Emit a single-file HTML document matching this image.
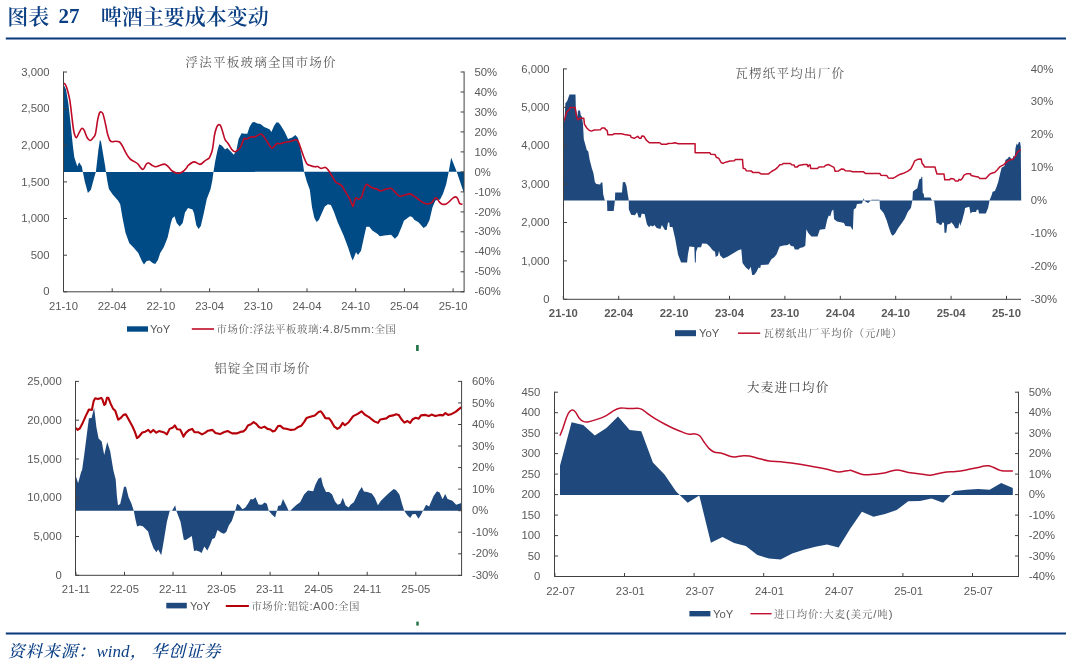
<!DOCTYPE html>
<html lang="zh-CN">
<head>
<meta charset="utf-8">
<title>图表 27 啤酒主要成本变动</title>
<style>
html,body{margin:0;padding:0;background:#fff;}
body{width:1066px;height:664px;overflow:hidden;}
svg{display:block;}
</style>
</head>
<body>
<svg width="1066" height="664" viewBox="0 0 1066 664">
<rect width="1066" height="664" fill="#fff"/>
<text x="7.2" y="23.6" font-size="21" font-weight="600" fill="#0B3F84" font-family='"Liberation Serif", "Noto Serif CJK SC", serif'>图表</text>
<text x="58.6" y="23.4" font-size="21" font-weight="bold" fill="#0B3F84" font-family='"Liberation Serif", "Noto Serif CJK SC", serif'>27</text>
<text x="100.8" y="23.6" font-size="21" font-weight="600" fill="#0B3F84" font-family='"Liberation Serif", "Noto Serif CJK SC", serif'>啤酒主要成本变动</text>
<rect x="5.8" y="37.5" width="1061" height="2" fill="#07397B"/>
<rect x="5.8" y="632.5" width="1061" height="2" fill="#07397B"/>
<text x="8" y="656.5" font-size="16.6" font-weight="500" font-style="italic" fill="#0B3F84" font-family='"Liberation Serif", "Noto Serif CJK SC", serif' letter-spacing="1">资料来源：</text>
<text x="96.5" y="656.5" font-size="17" font-style="italic" fill="#0B3F84" font-family='"Liberation Serif", "Noto Serif CJK SC", serif'>wind</text>
<text x="130" y="656.5" font-size="16.6" font-weight="500" font-style="italic" fill="#0B3F84" font-family='"Liberation Serif", "Noto Serif CJK SC", serif'>，</text>
<text x="151" y="656.5" font-size="16.6" font-weight="500" font-style="italic" fill="#0B3F84" font-family='"Liberation Serif", "Noto Serif CJK SC", serif' letter-spacing="1">华创证券</text>
<rect x="416.1" y="345" width="2.6" height="6" fill="#1E7145"/>
<rect x="416.3" y="621.6" width="2.4" height="4" fill="#1E7145"/>
<path d="M63.5,171.9 L63.5,84.3 L66,89.6 L68.3,103.1 L70.5,122.7 L72.8,145.3 L74.3,157.3 L77.3,166.4 L79.1,162.2 L81.8,166.4 L82.8,171.8 L84.8,181.6 L87.9,192.9 L90.9,189.8 L93.9,178.6 L95.9,171.8 L98.4,149.8 L99.9,140 L101,141.5 L102.9,152.8 L105.2,166.4 L105.9,171.8 L107.4,181.6 L108.9,189.1 L112.7,194.4 L118,200.4 L120.2,204.2 L122.5,217.7 L125.5,232.8 L129.3,243.3 L133.8,247.8 L138.3,253.1 L142.1,261.4 L144,264.4 L146.6,261.1 L149.6,260.6 L152.6,262.9 L155.2,264.1 L157.9,259.9 L160.2,253.1 L163.9,247.1 L167.7,237.3 L170.7,223.7 L172.2,218.5 L174.5,216.2 L176.7,223 L179.7,226.4 L182.7,223 L185,212.4 L188,207.9 L192.5,209.4 L194,213.2 L196.3,225.2 L198.6,229 L200.8,226 L203.8,213.2 L206.8,198.9 L210.6,189.1 L212.4,180.1 L213.5,171.8 L215.3,160.8 L217.5,150.2 L219.3,144.2 L222,145.7 L225.1,149.5 L227.3,148 L230.3,151 L233.8,154.8 L236.4,150.2 L238.6,138.9 L241.6,133.2 L244.6,133.7 L247.3,133.7 L249.5,126.9 L252.2,122.4 L254.4,122.1 L257.4,123.4 L260.5,123.9 L264.2,126.9 L269.5,129.2 L271.4,131.9 L274,126.1 L276.3,122.4 L278.5,122.4 L280.8,125.4 L284.5,131.4 L288,138.9 L292.1,137.4 L295.5,134.9 L298.1,138.2 L300.4,148.7 L302.6,160.8 L304.1,171.8 L306.8,181.6 L309.8,189.8 L312,207.2 L314.3,217.7 L316.6,221.9 L318.8,220 L321.8,213.2 L324.8,206.4 L327.9,204.2 L330.9,204.9 L333.9,211.7 L337.7,222.2 L343.7,235.8 L348.2,247.8 L351.2,256.9 L352.7,260.6 L354.2,256.9 L356,252.3 L358,255.1 L361,250.8 L363.3,240.3 L366.3,226.7 L369.3,226.7 L372.3,230.5 L377.6,234 L379.8,236.2 L384.3,235.5 L391.1,234.7 L394.9,238.8 L397.9,235.8 L401.7,226.7 L403.9,220.7 L406.9,218.5 L409.9,216.2 L412.2,217 L414.5,220 L418.2,221.9 L421.2,225.2 L423.5,228 L426.5,226 L429.5,220 L432.5,207.2 L435.5,200.4 L440.1,199.6 L443.1,193.6 L446.1,184.6 L448.3,174 L448.7,171.8 L451.2,157.7 L456.8,172 L462.9,190 L464,192.5 L464,171.8Z" fill="#004A86"/>
<path d="M63.3,83.3 C63.6,83.5 64.6,83.1 65.3,84.3 C66,85.5 66.8,87.7 67.5,90.3 C68.2,92.9 69.1,95.9 69.8,100.1 C70.5,104.2 71.1,110.2 71.7,115.2 C72.3,120.2 73,126.7 73.6,130.2 C74.2,133.7 74.6,134.8 75.1,136 C75.6,137.2 76,137.9 76.6,137.5 C77.2,137.1 77.9,134.8 78.8,133.3 C79.7,131.8 80.9,128.9 81.8,128.4 C82.7,127.9 83.2,128.7 84.1,130.2 C85,131.7 86.1,135.8 87.1,137.5 C88.1,139.2 89.1,140.4 90.1,140.5 C91.1,140.6 92.2,138.9 93.1,137.8 C94,136.7 94.6,137 95.4,134 C96.2,131 97,123.2 97.7,119.7 C98.4,116.2 99,114.2 99.5,112.9 C100,111.6 100.4,111.8 101,111.9 C101.6,112 102.2,111.9 102.9,113.7 C103.6,115.5 104.5,119.4 105.2,122.7 C106,126 106.7,130.4 107.4,133.3 C108.2,136.2 108.9,138.6 109.7,140 C110.5,141.4 111,141.6 112,141.8 C113,142 114.5,141.2 115.7,141.2 C117,141.2 118.4,141.2 119.5,142 C120.6,142.8 121.4,144.2 122.5,146.1 C123.6,148 125,151.5 126.3,153.6 C127.5,155.7 128.8,157.6 130,158.9 C131.2,160.2 132.5,160.6 133.8,161.4 C135.1,162.2 136.5,162.7 137.6,163.7 C138.7,164.7 139.7,166.6 140.6,167.6 C141.5,168.6 142.2,169.3 142.8,169.4 C143.4,169.5 143.7,168.9 144.3,167.9 C144.9,166.9 145.8,164.5 146.6,163.7 C147.4,162.9 148,162.8 148.9,163.1 C149.8,163.3 150.8,164.6 151.9,165.2 C153,165.8 154.2,166.8 155.6,166.8 C157,166.8 158.8,165.8 160.2,165.3 C161.6,164.9 162.8,164.1 163.9,164.1 C165,164.1 165.9,164.6 166.9,165.3 C167.9,166.1 169,167.7 169.9,168.6 C170.8,169.5 170.9,170.2 172.2,171 C173.5,171.8 175.8,173.2 177.5,173.3 C179.2,173.4 181.2,172.7 182.7,171.8 C184.2,170.9 185.6,169 186.5,168 C187.4,167 186.8,166.6 188,165.6 C189.2,164.6 192,162.1 194,161.9 C196,161.7 198.2,164.5 200,164.4 C201.8,164.3 203.1,162.2 204.6,161.1 C206.1,160 208.2,158.9 209.1,158.1 C210,157.3 209.5,157.6 210,156.3 C210.5,155 211.6,153.7 212.3,150.2 C213.1,146.7 213.8,139.1 214.5,135.2 C215.2,131.3 216.1,128.7 216.8,126.9 C217.6,125.1 218.3,124.7 219,124.6 C219.7,124.5 220.2,124.8 220.8,126.1 C221.4,127.4 222.1,129.9 222.8,132.2 C223.5,134.5 224.2,137.8 225.1,139.7 C226,141.6 227,141.9 228.1,143.5 C229.2,145.1 230.7,148.1 231.8,149.5 C232.9,150.9 233.8,151.6 234.8,151.7 C235.8,151.8 236.9,151.1 237.9,150.2 C238.9,149.3 239.9,148.4 240.9,146.5 C241.9,144.6 242.9,140.2 243.9,138.9 C244.9,137.6 245.8,139.2 246.9,138.9 C248,138.6 249.3,137.4 250.7,137 C252.1,136.6 253.6,137.2 255.2,136.7 C256.8,136.2 259.2,134.2 260.5,134 C261.8,133.8 261.7,134.1 262.7,135.2 C263.7,136.3 265.2,138.6 266.5,140.5 C267.8,142.4 269.2,145.2 270.2,146.5 C271.2,147.8 271.4,148.5 272.5,148 C273.6,147.5 275.8,144.2 277,143.5 C278.2,142.8 278.6,144 280,143.8 C281.4,143.6 283.4,142.7 285.3,142.3 C287.2,141.9 289.6,141.6 291.3,141.2 C293.1,140.8 294.7,139.7 295.8,139.7 C296.9,139.7 297.3,139.9 298.1,141.2 C298.9,142.4 299.4,144.4 300.4,147.2 C301.4,150 303,155 304.1,157.8 C305.2,160.6 306.1,162.8 307.1,164.1 C308.1,165.4 308.9,164.9 310.2,165.4 C311.5,165.9 313.9,166.6 315.1,166.8 C316.4,167 316.7,166.2 317.7,166.5 C318.7,166.8 319.8,168.2 321.1,168.4 C322.4,168.6 324.3,167 325.6,167.4 C326.9,167.8 327.7,169.3 328.8,170.8 C329.9,172.3 331,174.5 332.2,176.4 C333.4,178.3 334.3,180.7 335.8,182.2 C337.3,183.7 339.8,183.8 341.4,185.3 C343,186.8 343.9,189.4 345.2,191.4 C346.4,193.4 347.8,195.2 348.9,197.4 C350,199.6 351.3,203 352,204.5 C352.7,206 352.6,207 353,206.4 C353.4,205.8 354,202.5 354.5,201.1 C355,199.7 355.3,198.1 356,197.8 C356.7,197.5 357.8,199.4 358.7,199.3 C359.6,199.2 360.5,199.1 361.4,197.4 C362.3,195.7 363.2,191.2 364,189.1 C364.8,187 365.6,185.2 366.3,184.6 C367.1,184 367.6,184.8 368.5,185.3 C369.4,185.8 370.1,187 371.5,187.6 C372.9,188.2 375.3,188.5 376.8,189.1 C378.3,189.7 379.2,190.8 380.6,190.9 C382,191 383.5,189.8 385.1,189.4 C386.7,189 389,188.2 390.4,188.3 C391.8,188.5 392.1,189.2 393.4,190.3 C394.6,191.4 396.6,194.1 397.9,195.1 C399.1,196.1 399.6,196.2 400.9,196.2 C402.1,196.1 403.9,195.2 405.4,194.8 C406.9,194.4 408.4,193.7 409.9,193.9 C411.4,194.2 412.7,195.2 414.5,196.3 C416.3,197.5 418.8,199.6 420.5,200.8 C422.2,202 423.5,202.9 425,203.4 C426.5,203.9 428.2,203.9 429.5,203.7 C430.8,203.4 431.6,202.8 432.5,201.9 C433.4,201 434.1,199 434.8,198.4 C435.5,197.8 435.9,197.5 436.7,198.1 C437.4,198.7 438.4,200.9 439.3,201.9 C440.2,202.9 441.2,203.9 442.3,204.2 C443.4,204.5 444.9,204.4 446.1,203.9 C447.4,203.4 448.7,202.1 449.8,201.1 C450.9,200.1 451.9,198.8 452.9,198.1 C453.9,197.4 455.1,196.8 455.9,196.9 C456.7,197 457.2,197.8 457.8,198.9 C458.4,200 458.8,202.5 459.6,203.4 C460.4,204.3 462,204.2 462.5,204.3" fill="none" stroke="#BE0A26" stroke-width="1.6" stroke-linejoin="round" stroke-linecap="butt"/>
<path d="M63.5,71.5 V291.8 H464.1" fill="none" stroke="#404040" stroke-width="1"/>
<path d="M63.5,72 h3.5 M63.5,108.6 h3.5 M63.5,145.3 h3.5 M63.5,181.9 h3.5 M63.5,218.5 h3.5 M63.5,255.2 h3.5 M63.5,291.8 h3.5 M63.5,291.8 v-3.5 M112.2,291.8 v-3.5 M160.9,291.8 v-3.5 M209.6,291.8 v-3.5 M258.3,291.8 v-3.5 M307,291.8 v-3.5 M355.7,291.8 v-3.5 M404.4,291.8 v-3.5 M453.1,291.8 v-3.5 " fill="none" stroke="#404040" stroke-width="1"/>
<text x="49.5" y="75.6" text-anchor="end" font-size="11.3" fill="#595959" font-family='"Liberation Sans", sans-serif'>3,000</text>
<text x="49.5" y="112.2" text-anchor="end" font-size="11.3" fill="#595959" font-family='"Liberation Sans", sans-serif'>2,500</text>
<text x="49.5" y="148.9" text-anchor="end" font-size="11.3" fill="#595959" font-family='"Liberation Sans", sans-serif'>2,000</text>
<text x="49.5" y="185.5" text-anchor="end" font-size="11.3" fill="#595959" font-family='"Liberation Sans", sans-serif'>1,500</text>
<text x="49.5" y="222.1" text-anchor="end" font-size="11.3" fill="#595959" font-family='"Liberation Sans", sans-serif'>1,000</text>
<text x="49.5" y="258.8" text-anchor="end" font-size="11.3" fill="#595959" font-family='"Liberation Sans", sans-serif'>500</text>
<text x="49.5" y="295.4" text-anchor="end" font-size="11.3" fill="#595959" font-family='"Liberation Sans", sans-serif'>0</text>
<path d="M464.1,71.5 V292.3 M464.1,72 h-3.5 M464.1,92 h-3.5 M464.1,112 h-3.5 M464.1,131.9 h-3.5 M464.1,151.9 h-3.5 M464.1,171.9 h-3.5 M464.1,191.9 h-3.5 M464.1,211.9 h-3.5 M464.1,231.8 h-3.5 M464.1,251.8 h-3.5 M464.1,271.8 h-3.5 M464.1,291.8 h-3.5 " fill="none" stroke="#404040" stroke-width="1"/>
<text x="474.4" y="75.6" text-anchor="start" font-size="11.3" fill="#595959" font-family='"Liberation Sans", sans-serif'>50%</text>
<text x="474.4" y="95.6" text-anchor="start" font-size="11.3" fill="#595959" font-family='"Liberation Sans", sans-serif'>40%</text>
<text x="474.4" y="115.6" text-anchor="start" font-size="11.3" fill="#595959" font-family='"Liberation Sans", sans-serif'>30%</text>
<text x="474.4" y="135.5" text-anchor="start" font-size="11.3" fill="#595959" font-family='"Liberation Sans", sans-serif'>20%</text>
<text x="474.4" y="155.5" text-anchor="start" font-size="11.3" fill="#595959" font-family='"Liberation Sans", sans-serif'>10%</text>
<text x="474.4" y="175.5" text-anchor="start" font-size="11.3" fill="#595959" font-family='"Liberation Sans", sans-serif'>0%</text>
<text x="474.4" y="195.5" text-anchor="start" font-size="11.3" fill="#595959" font-family='"Liberation Sans", sans-serif'>-10%</text>
<text x="474.4" y="215.5" text-anchor="start" font-size="11.3" fill="#595959" font-family='"Liberation Sans", sans-serif'>-20%</text>
<text x="474.4" y="235.4" text-anchor="start" font-size="11.3" fill="#595959" font-family='"Liberation Sans", sans-serif'>-30%</text>
<text x="474.4" y="255.4" text-anchor="start" font-size="11.3" fill="#595959" font-family='"Liberation Sans", sans-serif'>-40%</text>
<text x="474.4" y="275.4" text-anchor="start" font-size="11.3" fill="#595959" font-family='"Liberation Sans", sans-serif'>-50%</text>
<text x="474.4" y="295.4" text-anchor="start" font-size="11.3" fill="#595959" font-family='"Liberation Sans", sans-serif'>-60%</text>
<text x="63.5" y="309.5" text-anchor="middle" font-size="11.3" fill="#595959" font-family='"Liberation Sans", sans-serif'>21-10</text>
<text x="112.2" y="309.5" text-anchor="middle" font-size="11.3" fill="#595959" font-family='"Liberation Sans", sans-serif'>22-04</text>
<text x="160.9" y="309.5" text-anchor="middle" font-size="11.3" fill="#595959" font-family='"Liberation Sans", sans-serif'>22-10</text>
<text x="209.6" y="309.5" text-anchor="middle" font-size="11.3" fill="#595959" font-family='"Liberation Sans", sans-serif'>23-04</text>
<text x="258.3" y="309.5" text-anchor="middle" font-size="11.3" fill="#595959" font-family='"Liberation Sans", sans-serif'>23-10</text>
<text x="307" y="309.5" text-anchor="middle" font-size="11.3" fill="#595959" font-family='"Liberation Sans", sans-serif'>24-04</text>
<text x="355.7" y="309.5" text-anchor="middle" font-size="11.3" fill="#595959" font-family='"Liberation Sans", sans-serif'>24-10</text>
<text x="404.4" y="309.5" text-anchor="middle" font-size="11.3" fill="#595959" font-family='"Liberation Sans", sans-serif'>25-04</text>
<text x="453.1" y="309.5" text-anchor="middle" font-size="11.3" fill="#595959" font-family='"Liberation Sans", sans-serif'>25-10</text>
<text x="260.4" y="67" text-anchor="middle" font-size="12.5" fill="#595959" font-family='"Liberation Serif", "Noto Serif CJK SC", serif' textLength="150" lengthAdjust="spacing">浮法平板玻璃全国市场价</text>
<rect x="127" y="326.3" width="21" height="5.4" fill="#004A86"/>
<text x="150" y="333" text-anchor="start" font-size="11.3" fill="#595959" font-family='"Liberation Sans", sans-serif'>YoY</text>
<path d="M191.8,329 H214" stroke="#BE0A26" stroke-width="1.6" fill="none"/>
<text x="216.5" y="333" text-anchor="start" font-size="10.4" fill="#606060" font-family='"Liberation Sans", "Noto Serif CJK SC", sans-serif' textLength="179.5" lengthAdjust="spacing"><tspan font-size="10.4">市场价</tspan><tspan font-size="11.3">:</tspan><tspan font-size="10.4">浮法平板玻璃</tspan><tspan font-size="11.3">:4.8/5mm:</tspan><tspan font-size="10.4">全国</tspan></text>
<path d="M563.5,200.5 L563.5,124.3 L564.5,119.8 L565.4,103.2 L567.2,101 L569.5,94.5 L575.5,94.5 L575.8,107.7 L577.3,116.7 L578.1,110.4 L580,110.4 L580.8,115.2 L582,116.7 L583,124.3 L583.8,139.3 L585.3,144.6 L586.8,149.9 L588.3,151.4 L589.6,159.6 L591.9,168.6 L593.4,173.1 L594.9,182.2 L596.4,184 L600.2,184.4 L600.9,182.6 L602.4,182.6 L603.2,194.2 L604.7,200.2 L607,200.7 L607.3,211.1 L613.7,211.1 L614.9,200.7 L615.2,192.4 L622,192.4 L622.8,182.2 L625,181.9 L626.5,185.9 L628,195.7 L628.8,200.7 L628.8,209.3 L631.1,214.8 L634.8,215.3 L637.1,212.3 L638.6,217.6 L640.8,217.6 L641.6,213.8 L644.6,214.1 L646.9,224.3 L649.1,227.3 L650.6,225.5 L652.9,226.6 L654.4,225.1 L656.7,228.1 L660.4,228.9 L661.9,225.1 L664.9,230.1 L666.7,230.1 L668,222.5 L669.2,222.5 L669.8,227 L672.5,227 L675.1,238.2 L678.1,254.8 L681.1,262.6 L687.1,262.6 L687.9,254.8 L689.4,246.5 L694.3,246.9 L694.9,262.6 L695.8,262.6 L696.1,251.7 L697.7,247.2 L701,247.2 L702.2,243.5 L706.7,243.8 L709.7,246.5 L712.7,250.2 L715,251.7 L715.7,257 L718,255.5 L719,251 L720.2,255.5 L723.3,258.5 L727,257 L730.8,254.8 L734.5,252.5 L738.3,250.2 L741.3,249.2 L742.5,263 L745.8,267.6 L748.9,270.1 L750.7,266.8 L752.2,275.1 L754.1,275.1 L756.4,272.1 L758.6,267.6 L760.2,268.3 L760.9,265 L768.4,264.5 L771.4,259.3 L774.5,257 L776.7,254 L779.7,246.5 L783.5,245.4 L788,245 L789.2,243.5 L790.7,245.7 L793.7,246.5 L794.8,249.5 L798.6,249.5 L799.8,248 L803.1,247.2 L805.3,245.7 L806.4,229.2 L808.3,232.9 L811.4,236.4 L817.5,236.6 L819.8,229.8 L825.1,229.1 L827.3,219.3 L828.8,215.5 L830.3,216.3 L831.8,211 L833.3,209.5 L834.1,219.3 L837.1,221.5 L840.9,222.3 L843.9,223 L845.4,226.1 L850.7,226.5 L852.2,229.5 L852.9,229.5 L853.7,209.5 L855.9,208 L857,203.9 L862,203.5 L863,200.5 L863.5,198.2 L864.5,200.5 L865,201.2 L868,203 L871,200.5 L871.5,199.8 L879.3,199.8 L879.6,200.5 L880,208.7 L883.8,213.3 L886.8,220.8 L889.1,228.3 L891.3,234.3 L892.8,235.8 L895.1,233.6 L898.1,228.3 L901.9,223 L904.9,218.5 L907.9,211.7 L910.9,208 L912.4,200.5 L912.9,191.4 L915.4,189.5 L917.2,188.4 L919.2,179.4 L921.1,178.6 L921.7,176.4 L922.3,177.1 L922.7,192.9 L923.7,193.7 L924.2,197.4 L930.5,197.4 L932,200.5 L934.2,200.9 L935.3,210.2 L936.5,223 L938.8,223.5 L939.8,225 L941.8,224.5 L942.5,222.3 L944,223 L944.5,232.8 L946.3,232.8 L947.3,224.5 L950.1,223.8 L951.3,222.3 L953.8,225.3 L955.3,228.3 L958.3,228.3 L959.4,222.3 L960.2,226.1 L962.1,220.8 L964.4,211.7 L965.1,208 L969.3,206.8 L970.5,213.6 L972.3,212.1 L976,212.1 L976.8,209.8 L978.3,209.8 L979,213.6 L985.8,213.6 L988.1,208 L989.6,200.3 L991.8,194.8 L992.6,191.7 L994.9,191 L996.4,187.2 L998.2,182 L1000.1,173.7 L1001.6,167.7 L1004.6,166.1 L1005.4,160.1 L1007.7,158.6 L1009.2,156.4 L1010.7,157.9 L1012.2,159.4 L1013.7,155.6 L1014.7,157.1 L1015.5,148.1 L1016.7,143.6 L1017.7,145.1 L1018.9,142 L1020,142 L1020.8,146.6 L1021.2,200.4Z" fill="#1F497D"/>
<path d="M563.5,121.3 L565,118.3 L566.5,112.2 L569.5,109.2 L570.2,107.4 L575.1,107.4 L576.3,115.2 L577.8,119.8 L580,118.3 L583.8,118.3 L584.5,124.3 L586.8,128 L589.1,130.3 L591.3,131.1 L594.3,130 L600.4,129.8 L601.9,128 L604.6,128 L605.6,129.5 L607.1,130.3 L607.9,134.8 L612.4,134.8 L613.9,133.8 L621.4,133.8 L624.5,134.5 L630.5,135.6 L631.2,137.4 L634.2,138.3 L637.7,136.3 L639.5,138.3 L641,138.3 L641.8,135.9 L644,136.3 L646.3,140.1 L649.3,142.7 L659.8,142.8 L661.4,144.3 L666.6,144.3 L668,143.5 L672.5,143.3 L674.7,142.7 L678.5,143.8 L695.1,143.8 L695.1,152.8 L709.8,152.7 L710.8,154.3 L715.1,154.6 L716.3,157.3 L718.8,158.4 L721.1,162.5 L722.9,163.4 L726.4,161.9 L730.1,161 L734.3,160.7 L735.4,159.5 L742.5,159.5 L743.2,168.2 L745.2,168.9 L746.4,170.8 L751.2,170.9 L752.7,172.4 L758.7,172.4 L761,173.9 L768.5,173.9 L771.5,171.5 L775.3,169.4 L777.6,167.4 L779.8,164.7 L782.1,164.4 L783.6,163.4 L790.4,163.4 L791.6,164.7 L794.1,164.9 L794.9,167.1 L797.1,167.1 L798.6,165.6 L803.9,164.6 L807.2,164.6 L808.1,166.7 L809.2,164.9 L810.2,164.9 L810.7,168.5 L817.5,168.5 L819,167 L824.2,166.7 L825.8,165.2 L828.8,164.6 L831,165.9 L834,167.4 L835.1,171.2 L838.6,170.9 L841.6,168.9 L843.8,169.2 L845.3,170.8 L850.6,170.9 L852.1,171.7 L863.5,171.8 L865.7,173.6 L880,173.6 L880.8,175.2 L886.8,175.6 L888.3,177.9 L892.8,178.3 L895.1,177.1 L898.9,174.8 L903.4,173.3 L907.9,171.1 L910.9,168.8 L913.2,164.3 L914.7,160.8 L917.7,159.3 L921.1,159 L922.2,163.6 L923.7,165.1 L924.5,166.9 L935,166.9 L935.8,170.3 L937,174.1 L944,174.1 L944.8,179.8 L949.3,179.8 L950.8,178.6 L953.8,178.9 L955.3,180.9 L958.3,180.9 L959.1,179.4 L960.6,180.1 L962.5,178.2 L964,175.2 L967,173.7 L970.5,173.7 L971.1,175.6 L975.3,176.4 L978.3,177 L979.8,178.5 L985.8,178.5 L988.1,175.9 L990.3,173.7 L994.9,172.2 L997.1,169.9 L1000.1,166.6 L1003.9,164.6 L1006.9,161.6 L1010.7,159.4 L1012.9,159.4 L1015.2,156.4 L1017.4,152.3 L1020.5,149.6" fill="none" stroke="#C0102F" stroke-width="1.5" stroke-linejoin="round" stroke-linecap="butt"/>
<path d="M563.5,68.4 V299.3 H1021" fill="none" stroke="#404040" stroke-width="1"/>
<path d="M563.5,68.9 h3.5 M563.5,107.3 h3.5 M563.5,145.7 h3.5 M563.5,184.1 h3.5 M563.5,222.5 h3.5 M563.5,260.9 h3.5 M563.5,299.3 h3.5 M563.3,299.3 v-3.5 M618.7,299.3 v-3.5 M674.1,299.3 v-3.5 M729.5,299.3 v-3.5 M784.9,299.3 v-3.5 M840.3,299.3 v-3.5 M895.7,299.3 v-3.5 M951.1,299.3 v-3.5 M1006.5,299.3 v-3.5 " fill="none" stroke="#404040" stroke-width="1"/>
<text x="549.5" y="72.5" text-anchor="end" font-size="11.3" fill="#595959" font-family='"Liberation Sans", sans-serif'>6,000</text>
<text x="549.5" y="110.9" text-anchor="end" font-size="11.3" fill="#595959" font-family='"Liberation Sans", sans-serif'>5,000</text>
<text x="549.5" y="149.3" text-anchor="end" font-size="11.3" fill="#595959" font-family='"Liberation Sans", sans-serif'>4,000</text>
<text x="549.5" y="187.7" text-anchor="end" font-size="11.3" fill="#595959" font-family='"Liberation Sans", sans-serif'>3,000</text>
<text x="549.5" y="226.1" text-anchor="end" font-size="11.3" fill="#595959" font-family='"Liberation Sans", sans-serif'>2,000</text>
<text x="549.5" y="264.5" text-anchor="end" font-size="11.3" fill="#595959" font-family='"Liberation Sans", sans-serif'>1,000</text>
<text x="549.5" y="302.9" text-anchor="end" font-size="11.3" fill="#595959" font-family='"Liberation Sans", sans-serif'>0</text>
<text x="1030.8" y="72.5" text-anchor="start" font-size="11.3" fill="#595959" font-family='"Liberation Sans", sans-serif'>40%</text>
<text x="1030.8" y="105.4" text-anchor="start" font-size="11.3" fill="#595959" font-family='"Liberation Sans", sans-serif'>30%</text>
<text x="1030.8" y="138.3" text-anchor="start" font-size="11.3" fill="#595959" font-family='"Liberation Sans", sans-serif'>20%</text>
<text x="1030.8" y="171.2" text-anchor="start" font-size="11.3" fill="#595959" font-family='"Liberation Sans", sans-serif'>10%</text>
<text x="1030.8" y="204.1" text-anchor="start" font-size="11.3" fill="#595959" font-family='"Liberation Sans", sans-serif'>0%</text>
<text x="1030.8" y="237" text-anchor="start" font-size="11.3" fill="#595959" font-family='"Liberation Sans", sans-serif'>-10%</text>
<text x="1030.8" y="270" text-anchor="start" font-size="11.3" fill="#595959" font-family='"Liberation Sans", sans-serif'>-20%</text>
<text x="1030.8" y="302.9" text-anchor="start" font-size="11.3" fill="#595959" font-family='"Liberation Sans", sans-serif'>-30%</text>
<text x="563.3" y="317" text-anchor="middle" font-size="11.3" fill="#595959" font-family='"Liberation Sans", sans-serif' font-weight="bold">21-10</text>
<text x="618.7" y="317" text-anchor="middle" font-size="11.3" fill="#595959" font-family='"Liberation Sans", sans-serif' font-weight="bold">22-04</text>
<text x="674.1" y="317" text-anchor="middle" font-size="11.3" fill="#595959" font-family='"Liberation Sans", sans-serif' font-weight="bold">22-10</text>
<text x="729.5" y="317" text-anchor="middle" font-size="11.3" fill="#595959" font-family='"Liberation Sans", sans-serif' font-weight="bold">23-04</text>
<text x="784.9" y="317" text-anchor="middle" font-size="11.3" fill="#595959" font-family='"Liberation Sans", sans-serif' font-weight="bold">23-10</text>
<text x="840.3" y="317" text-anchor="middle" font-size="11.3" fill="#595959" font-family='"Liberation Sans", sans-serif' font-weight="bold">24-04</text>
<text x="895.7" y="317" text-anchor="middle" font-size="11.3" fill="#595959" font-family='"Liberation Sans", sans-serif' font-weight="bold">24-10</text>
<text x="951.1" y="317" text-anchor="middle" font-size="11.3" fill="#595959" font-family='"Liberation Sans", sans-serif' font-weight="bold">25-04</text>
<text x="1006.5" y="317" text-anchor="middle" font-size="11.3" fill="#595959" font-family='"Liberation Sans", sans-serif' font-weight="bold">25-10</text>
<text x="789.6" y="78" text-anchor="middle" font-size="12.5" fill="#595959" font-family='"Liberation Serif", "Noto Serif CJK SC", serif' textLength="108.8" lengthAdjust="spacing">瓦楞纸平均出厂价</text>
<rect x="675" y="330.2" width="21" height="6" fill="#1F497D"/>
<text x="699" y="337" text-anchor="start" font-size="11.3" fill="#595959" font-family='"Liberation Sans", sans-serif'>YoY</text>
<path d="M738,333.2 H760.2" stroke="#C0102F" stroke-width="1.5" fill="none"/>
<text x="763.5" y="337" text-anchor="start" font-size="10.4" fill="#606060" font-family='"Liberation Sans", "Noto Serif CJK SC", sans-serif' textLength="138.5" lengthAdjust="spacing"><tspan font-size="10.4">瓦楞纸出厂平均价（元</tspan><tspan font-size="11.3">/</tspan><tspan font-size="10.4">吨）</tspan></text>
<path d="M75.5,510.8 L75.5,475.1 L78.1,483.3 L81.1,472 L82.1,470 L84.3,454.3 L86.6,436.3 L88.9,418.2 L91.6,417.9 L94.1,407.7 L96.4,427.2 L98.6,438.5 L101.7,441.5 L104.2,455.1 L107.2,442 L110.2,451.3 L113.3,470 L115.7,479.6 L116.9,496.1 L118,505.2 L120.2,504 L122,496.1 L124,486.8 L126,486.8 L128.5,496.9 L131.5,503.7 L133.8,510.8 L135.3,518.7 L137.1,526.6 L139.8,525.5 L142.8,526.3 L148.1,531.5 L150.4,539.8 L153.4,548.1 L156.4,552.2 L158.2,549.6 L161.2,555.2 L163.2,544.3 L166.9,521.7 L169.6,511.2 L172.2,510.5 L175.2,505.2 L176.3,510.8 L180.5,521.7 L183.8,539.8 L185.8,540.1 L191.8,536.1 L194,551.1 L196.3,550.4 L199.3,551.6 L201.6,553.1 L204.3,546.6 L207.3,550.4 L210,545.1 L212.3,539.1 L214.8,537.9 L217.5,530 L221.3,532.7 L223.9,533.8 L226.3,532 L228.8,525.5 L231.8,521 L234.1,514.2 L235.2,510.8 L237.1,503.7 L239.4,505.2 L242.4,509.2 L245.4,507.4 L248.4,502.9 L250.7,498.9 L252.9,499.5 L255.5,497.3 L258.5,504.4 L262,504.7 L264.5,502.6 L266.9,503.7 L268.7,510.8 L271.7,514.2 L275.1,517.5 L276.3,512.7 L277,510.8 L278.1,505.9 L280.8,505.2 L283,498.9 L286.1,505.2 L288.6,510.8 L289.8,511.2 L292.8,508.2 L296.6,504.7 L300.1,502.2 L304.1,494.6 L307.9,490.6 L313.2,491.2 L315.4,484.8 L318.4,478.8 L321.1,477.3 L323,485.6 L326,492.1 L329,492.1 L332,494.3 L335,501.4 L337.7,504.7 L340.3,503.7 L342.8,497.7 L345.5,505.2 L348.6,507.4 L350.8,504.4 L353.8,502.2 L356.8,496.1 L359.1,490.9 L361.8,487.1 L363.9,491.6 L367.3,492.1 L371.8,493.4 L374.8,497.7 L377.9,505.2 L380.9,500.7 L388.4,493.4 L393.7,489.1 L395.9,490.1 L399.4,494.6 L402,503.7 L404.2,510.8 L407.2,515 L410.2,518 L412.5,514.2 L415.5,513.9 L418.5,518.7 L420.8,515 L423,510.8 L426.1,504.7 L429.1,506.4 L433.6,496.1 L437,491.3 L439.6,492.4 L442.6,499.2 L445.2,493.9 L447.6,498.9 L452.4,500.7 L456.2,504.7 L461.4,502.9 L461.4,510.8Z" fill="#1F497D"/>
<path d="M76,427.8 L77.6,429.9 L79.8,428.4 L82.8,422.7 L85.8,415.9 L88.9,409.5 L91.9,409.9 L93.7,400.9 L95.2,398.3 L97.9,399.1 L101.2,397.9 L102.4,399.4 L104.2,404.9 L105.4,403.9 L106.9,397.9 L108.4,397.9 L110.7,403.9 L112.9,408.4 L115.2,410.7 L118.2,419.7 L120.5,418.2 L123.5,414.9 L125.8,414.4 L128,418.2 L132.5,426.5 L134.8,431.7 L137,438.1 L138.6,437 L142.3,432.5 L145.3,431.7 L148.3,429.9 L150.6,432.5 L153.3,429.9 L156.3,432.7 L159,431.1 L164.3,432.5 L166.9,434.4 L169.6,428.9 L172.6,427.7 L174.8,425.4 L177.1,429.2 L180.1,429.5 L181.9,432.9 L183.4,436.7 L185.8,432.9 L189.2,429.9 L192.2,428.9 L194.4,432.2 L198.2,432.2 L202,434.4 L205,432.9 L208,430.7 L212.5,429.9 L215.5,432.9 L220,434.1 L223.8,432.2 L227.6,431 L232.1,433.4 L236.6,433.4 L240.4,431.9 L243.4,431.4 L245.6,429.5 L247.9,425.4 L250.9,424.3 L253.6,422.1 L256.2,423.9 L259.2,427.3 L261.4,427.9 L264.5,426.6 L267.5,428.9 L270.5,429.5 L272.7,431.4 L275,430.7 L278,426.1 L280.3,425.7 L283.3,428.4 L286.3,428.7 L290.8,429.9 L294.6,429.5 L298.3,426.9 L301.4,425.7 L304.4,421.6 L306.6,417.9 L309.5,416.9 L314.8,415.4 L318.6,411.9 L320.8,411.3 L322.8,413.9 L325.3,418.1 L329.1,418.4 L331.4,421.4 L334.4,426.7 L337.4,428.9 L339.9,427.4 L342.7,422.9 L344.9,425.2 L348.7,422.2 L353.2,416.1 L357.7,413.9 L361.5,411.3 L365.2,414.9 L369.8,417.7 L374.3,421.4 L378,422.9 L380.3,419.5 L386.3,418.4 L389.3,416.1 L393.1,415.4 L396.1,414.3 L398.7,414.9 L401.4,419.2 L404.4,422.6 L407.4,421 L410.1,422.9 L412.7,419.2 L415.7,417.7 L418.7,418.7 L421,415.4 L425.5,414.9 L428.8,416.1 L431.5,414.6 L435.3,416.1 L439.8,414.9 L442.8,415.4 L445.4,413.1 L448.1,414.9 L451.8,413.9 L455.6,411.9 L458.6,409.4 L461.6,407.1" fill="none" stroke="#B5000A" stroke-width="2.1" stroke-linejoin="round" stroke-linecap="butt"/>
<path d="M75.5,380.9 V575.3 H461.6" fill="none" stroke="#404040" stroke-width="1"/>
<path d="M75.5,381.4 h3.5 M75.5,420.2 h3.5 M75.5,459 h3.5 M75.5,497.7 h3.5 M75.5,536.5 h3.5 M75.5,575.3 h3.5 M75.9,575.3 v-3.5 M124.5,575.3 v-3.5 M173,575.3 v-3.5 M221.5,575.3 v-3.5 M270.1,575.3 v-3.5 M318.6,575.3 v-3.5 M367.2,575.3 v-3.5 M415.8,575.3 v-3.5 " fill="none" stroke="#404040" stroke-width="1"/>
<text x="61.7" y="385" text-anchor="end" font-size="11.3" fill="#595959" font-family='"Liberation Sans", sans-serif'>25,000</text>
<text x="61.7" y="423.8" text-anchor="end" font-size="11.3" fill="#595959" font-family='"Liberation Sans", sans-serif'>20,000</text>
<text x="61.7" y="462.6" text-anchor="end" font-size="11.3" fill="#595959" font-family='"Liberation Sans", sans-serif'>15,000</text>
<text x="61.7" y="501.3" text-anchor="end" font-size="11.3" fill="#595959" font-family='"Liberation Sans", sans-serif'>10,000</text>
<text x="61.7" y="540.1" text-anchor="end" font-size="11.3" fill="#595959" font-family='"Liberation Sans", sans-serif'>5,000</text>
<text x="61.7" y="578.9" text-anchor="end" font-size="11.3" fill="#595959" font-family='"Liberation Sans", sans-serif'>0</text>
<path d="M461.6,380.9 V575.8 M461.6,381.4 h-3.5 M461.6,402.9 h-3.5 M461.6,424.5 h-3.5 M461.6,446 h-3.5 M461.6,467.6 h-3.5 M461.6,489.1 h-3.5 M461.6,510.7 h-3.5 M461.6,532.2 h-3.5 M461.6,553.8 h-3.5 M461.6,575.4 h-3.5 " fill="none" stroke="#404040" stroke-width="1"/>
<text x="472" y="385" text-anchor="start" font-size="11.3" fill="#595959" font-family='"Liberation Sans", sans-serif'>60%</text>
<text x="472" y="406.6" text-anchor="start" font-size="11.3" fill="#595959" font-family='"Liberation Sans", sans-serif'>50%</text>
<text x="472" y="428.1" text-anchor="start" font-size="11.3" fill="#595959" font-family='"Liberation Sans", sans-serif'>40%</text>
<text x="472" y="449.6" text-anchor="start" font-size="11.3" fill="#595959" font-family='"Liberation Sans", sans-serif'>30%</text>
<text x="472" y="471.2" text-anchor="start" font-size="11.3" fill="#595959" font-family='"Liberation Sans", sans-serif'>20%</text>
<text x="472" y="492.8" text-anchor="start" font-size="11.3" fill="#595959" font-family='"Liberation Sans", sans-serif'>10%</text>
<text x="472" y="514.3" text-anchor="start" font-size="11.3" fill="#595959" font-family='"Liberation Sans", sans-serif'>0%</text>
<text x="472" y="535.9" text-anchor="start" font-size="11.3" fill="#595959" font-family='"Liberation Sans", sans-serif'>-10%</text>
<text x="472" y="557.4" text-anchor="start" font-size="11.3" fill="#595959" font-family='"Liberation Sans", sans-serif'>-20%</text>
<text x="472" y="579" text-anchor="start" font-size="11.3" fill="#595959" font-family='"Liberation Sans", sans-serif'>-30%</text>
<text x="75.9" y="593.2" text-anchor="middle" font-size="11.3" fill="#595959" font-family='"Liberation Sans", sans-serif'>21-11</text>
<text x="124.5" y="593.2" text-anchor="middle" font-size="11.3" fill="#595959" font-family='"Liberation Sans", sans-serif'>22-05</text>
<text x="173" y="593.2" text-anchor="middle" font-size="11.3" fill="#595959" font-family='"Liberation Sans", sans-serif'>22-11</text>
<text x="221.5" y="593.2" text-anchor="middle" font-size="11.3" fill="#595959" font-family='"Liberation Sans", sans-serif'>23-05</text>
<text x="270.1" y="593.2" text-anchor="middle" font-size="11.3" fill="#595959" font-family='"Liberation Sans", sans-serif'>23-11</text>
<text x="318.6" y="593.2" text-anchor="middle" font-size="11.3" fill="#595959" font-family='"Liberation Sans", sans-serif'>24-05</text>
<text x="367.2" y="593.2" text-anchor="middle" font-size="11.3" fill="#595959" font-family='"Liberation Sans", sans-serif'>24-11</text>
<text x="415.8" y="593.2" text-anchor="middle" font-size="11.3" fill="#595959" font-family='"Liberation Sans", sans-serif'>25-05</text>
<text x="261.8" y="373" text-anchor="middle" font-size="12.5" fill="#595959" font-family='"Liberation Serif", "Noto Serif CJK SC", serif' textLength="95" lengthAdjust="spacing">铝锭全国市场价</text>
<rect x="166.3" y="602.8" width="20.5" height="5.6" fill="#1F497D"/>
<text x="190" y="609.7" text-anchor="start" font-size="11.3" fill="#595959" font-family='"Liberation Sans", sans-serif'>YoY</text>
<path d="M225.8,606 H248.9" stroke="#B5000A" stroke-width="2" fill="none"/>
<text x="251.5" y="609.7" text-anchor="start" font-size="10.4" fill="#606060" font-family='"Liberation Sans", "Noto Serif CJK SC", sans-serif' textLength="108" lengthAdjust="spacing"><tspan font-size="10.4">市场价</tspan><tspan font-size="11.3">:</tspan><tspan font-size="10.4">铝锭</tspan><tspan font-size="11.3">:A00:</tspan><tspan font-size="10.4">全国</tspan></text>
<path d="M560,494.9 L560,465.8 L571.6,422.2 L583.2,424.9 L594.8,435.4 L606.4,427.9 L618,416.6 L629.7,430 L641.3,431.2 L652.9,462.5 L664.5,474.5 L676.1,491.5 L687.7,502.8 L699.3,495.6 L710.9,542.7 L722.5,537 L734.1,543 L745.8,546 L757.4,555 L769,558.5 L780.6,559.5 L792.2,553.5 L803.8,549.8 L815.4,546.7 L827,544.5 L838.6,547.6 L850.2,528.7 L861.9,511.7 L873.5,516.7 L885.1,514.1 L896.7,509.9 L908.3,501.2 L919.9,500.9 L931.5,498.6 L943.1,502.8 L954.7,491 L966.3,489.8 L978,489 L989.6,489.8 L1001.2,483 L1012.8,488 L1012.8,494.9Z" fill="#1F497D"/>
<path d="M559.9,435.7 C560.4,434.4 561.8,431.3 562.9,428.2 C564,425.1 565.6,419.7 566.7,416.9 C567.8,414.1 568.7,412.7 569.7,411.6 C570.7,410.5 571.7,410 572.7,410.1 C573.7,410.2 574.6,411 575.7,412.4 C576.8,413.8 578.2,416.9 579.5,418.4 C580.8,419.9 581.9,420.8 583.3,421.4 C584.7,422 585.8,422.1 587.8,421.9 C589.8,421.6 592.3,420.9 595.3,419.9 C598.3,418.9 602.8,417.3 605.8,415.8 C608.8,414.3 611.1,412.2 613.4,410.9 C615.7,409.6 617.4,408.6 619.4,408.2 C621.4,407.8 623.6,408.1 625.4,408.2 C627.1,408.3 627.9,408.6 629.9,408.6 C631.9,408.6 635.5,408.1 637.5,408.2 C639.5,408.3 640.2,408.4 642,409.4 C643.8,410.3 645.8,412.3 648,413.9 C650.2,415.5 652.7,417.2 655.5,418.9 C658.3,420.6 661.6,422.4 664.6,424 C667.6,425.6 670.5,427.1 673.6,428.5 C676.7,429.9 680.5,431.4 683.1,432.4 C685.7,433.4 687.2,434.1 689.2,434.3 C691.2,434.6 693.5,433.6 695.2,433.9 C697,434.1 698.2,434.4 699.7,435.8 C701.2,437.2 702.6,440 704.2,442.2 C705.8,444.4 707.9,447.3 709.5,448.9 C711.1,450.5 711.9,451.2 714,452 C716.1,452.8 719.7,452.8 722.3,453.5 C724.9,454.2 727.7,455.6 729.8,456.2 C731.9,456.8 732.8,457 735.1,456.9 C737.4,456.8 741,455.8 743.4,455.7 C745.8,455.6 746.9,455.6 749.4,456 C751.9,456.4 755.1,457.6 758.4,458.4 C761.7,459.2 765.2,460.4 769,461 C772.8,461.6 777,461.3 781,461.7 C785,462.1 789.9,462.9 793.1,463.3 C796.3,463.7 796.3,463.7 800,464.3 C803.7,464.9 810.6,466.1 815.1,466.9 C819.6,467.7 823.2,468.4 827.1,469.2 C831,470 834.8,471.7 838.4,471.9 C842,472.1 846.5,470.5 848.9,470.4 C851.3,470.2 850.4,470.3 852.7,471 C855,471.7 859.5,473.8 862.5,474.4 C865.5,475 867.2,474.9 870.8,474.6 C874.4,474.4 880,473.7 884.3,472.9 C888.6,472.1 892.4,470 896.4,469.9 C900.4,469.8 904.4,471.8 908.4,472.5 C912.4,473.2 916.8,473.6 920.5,474 C924.2,474.4 926.7,475.5 930.5,475.2 C934.3,474.9 939.3,473 943.5,472.4 C947.7,471.8 951.9,471.8 955.7,471.4 C959.5,471 962.7,470.5 966.2,469.9 C969.7,469.3 973.8,468.3 976.8,467.7 C979.8,467.1 982.3,466.4 984.3,466.1 C986.3,465.8 987.3,465.6 988.8,465.8 C990.3,466 991.4,466.5 993.3,467.3 C995.2,468.1 998.1,469.8 1000.1,470.4 C1002.1,471 1003.3,470.9 1005.4,471 C1007.5,471.1 1011.6,471 1012.9,471" fill="none" stroke="#C0102F" stroke-width="1.5" stroke-linejoin="round" stroke-linecap="butt"/>
<path d="M554.5,391.7 V576.5 H1018.5" fill="none" stroke="#404040" stroke-width="1"/>
<path d="M554.5,392.2 h3.5 M554.5,412.7 h3.5 M554.5,433.2 h3.5 M554.5,453.6 h3.5 M554.5,474.1 h3.5 M554.5,494.6 h3.5 M554.5,515.1 h3.5 M554.5,535.6 h3.5 M554.5,556 h3.5 M554.5,576.5 h3.5 M554.9,576.5 v-3.5 M624.5,576.5 v-3.5 M694.1,576.5 v-3.5 M763.7,576.5 v-3.5 M833.3,576.5 v-3.5 M902.9,576.5 v-3.5 M972.5,576.5 v-3.5 " fill="none" stroke="#404040" stroke-width="1"/>
<text x="540.3" y="395.8" text-anchor="end" font-size="11.3" fill="#595959" font-family='"Liberation Sans", sans-serif'>450</text>
<text x="540.3" y="416.3" text-anchor="end" font-size="11.3" fill="#595959" font-family='"Liberation Sans", sans-serif'>400</text>
<text x="540.3" y="436.8" text-anchor="end" font-size="11.3" fill="#595959" font-family='"Liberation Sans", sans-serif'>350</text>
<text x="540.3" y="457.2" text-anchor="end" font-size="11.3" fill="#595959" font-family='"Liberation Sans", sans-serif'>300</text>
<text x="540.3" y="477.7" text-anchor="end" font-size="11.3" fill="#595959" font-family='"Liberation Sans", sans-serif'>250</text>
<text x="540.3" y="498.2" text-anchor="end" font-size="11.3" fill="#595959" font-family='"Liberation Sans", sans-serif'>200</text>
<text x="540.3" y="518.7" text-anchor="end" font-size="11.3" fill="#595959" font-family='"Liberation Sans", sans-serif'>150</text>
<text x="540.3" y="539.2" text-anchor="end" font-size="11.3" fill="#595959" font-family='"Liberation Sans", sans-serif'>100</text>
<text x="540.3" y="559.6" text-anchor="end" font-size="11.3" fill="#595959" font-family='"Liberation Sans", sans-serif'>50</text>
<text x="540.3" y="580.1" text-anchor="end" font-size="11.3" fill="#595959" font-family='"Liberation Sans", sans-serif'>0</text>
<path d="M1018.5,391.7 V577 M1018.5,392.2 h-3.5 M1018.5,412.7 h-3.5 M1018.5,433.2 h-3.5 M1018.5,453.6 h-3.5 M1018.5,474.1 h-3.5 M1018.5,494.6 h-3.5 M1018.5,515.1 h-3.5 M1018.5,535.6 h-3.5 M1018.5,556 h-3.5 M1018.5,576.5 h-3.5 " fill="none" stroke="#404040" stroke-width="1"/>
<text x="1028.8" y="395.8" text-anchor="start" font-size="11.3" fill="#595959" font-family='"Liberation Sans", sans-serif'>50%</text>
<text x="1028.8" y="416.3" text-anchor="start" font-size="11.3" fill="#595959" font-family='"Liberation Sans", sans-serif'>40%</text>
<text x="1028.8" y="436.8" text-anchor="start" font-size="11.3" fill="#595959" font-family='"Liberation Sans", sans-serif'>30%</text>
<text x="1028.8" y="457.2" text-anchor="start" font-size="11.3" fill="#595959" font-family='"Liberation Sans", sans-serif'>20%</text>
<text x="1028.8" y="477.7" text-anchor="start" font-size="11.3" fill="#595959" font-family='"Liberation Sans", sans-serif'>10%</text>
<text x="1028.8" y="498.2" text-anchor="start" font-size="11.3" fill="#595959" font-family='"Liberation Sans", sans-serif'>0%</text>
<text x="1028.8" y="518.7" text-anchor="start" font-size="11.3" fill="#595959" font-family='"Liberation Sans", sans-serif'>-10%</text>
<text x="1028.8" y="539.2" text-anchor="start" font-size="11.3" fill="#595959" font-family='"Liberation Sans", sans-serif'>-20%</text>
<text x="1028.8" y="559.6" text-anchor="start" font-size="11.3" fill="#595959" font-family='"Liberation Sans", sans-serif'>-30%</text>
<text x="1028.8" y="580.1" text-anchor="start" font-size="11.3" fill="#595959" font-family='"Liberation Sans", sans-serif'>-40%</text>
<text x="560.7" y="594.5" text-anchor="middle" font-size="11.3" fill="#595959" font-family='"Liberation Sans", sans-serif'>22-07</text>
<text x="630.3" y="594.5" text-anchor="middle" font-size="11.3" fill="#595959" font-family='"Liberation Sans", sans-serif'>23-01</text>
<text x="699.9" y="594.5" text-anchor="middle" font-size="11.3" fill="#595959" font-family='"Liberation Sans", sans-serif'>23-07</text>
<text x="769.5" y="594.5" text-anchor="middle" font-size="11.3" fill="#595959" font-family='"Liberation Sans", sans-serif'>24-01</text>
<text x="839.1" y="594.5" text-anchor="middle" font-size="11.3" fill="#595959" font-family='"Liberation Sans", sans-serif'>24-07</text>
<text x="908.7" y="594.5" text-anchor="middle" font-size="11.3" fill="#595959" font-family='"Liberation Sans", sans-serif'>25-01</text>
<text x="978.3" y="594.5" text-anchor="middle" font-size="11.3" fill="#595959" font-family='"Liberation Sans", sans-serif'>25-07</text>
<text x="787.7" y="392" text-anchor="middle" font-size="12.5" fill="#404040" font-family='"Liberation Serif", "Noto Serif CJK SC", serif' textLength="81.2" lengthAdjust="spacing">大麦进口均价</text>
<rect x="689.4" y="611" width="21" height="5.4" fill="#1F497D"/>
<text x="713" y="618" text-anchor="start" font-size="11.3" fill="#595959" font-family='"Liberation Sans", sans-serif'>YoY</text>
<path d="M750.4,613.7 H771.6" stroke="#C0102F" stroke-width="1.4" fill="none"/>
<text x="774" y="618" text-anchor="start" font-size="10.4" fill="#606060" font-family='"Liberation Sans", "Noto Serif CJK SC", sans-serif' textLength="118.4" lengthAdjust="spacing"><tspan font-size="10.4">进口均价</tspan><tspan font-size="11.3">:</tspan><tspan font-size="10.4">大麦</tspan><tspan font-size="11.3">(</tspan><tspan font-size="10.4">美元</tspan><tspan font-size="11.3">/</tspan><tspan font-size="10.4">吨</tspan><tspan font-size="11.3">)</tspan></text>
</svg>
</body>
</html>
